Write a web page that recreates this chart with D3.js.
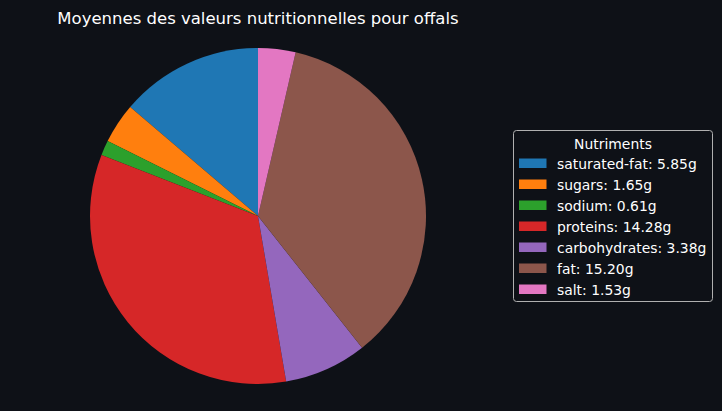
<!DOCTYPE html>
<html>
<head>
<meta charset="utf-8">
<script src="https://cdn.jsdelivr.net/npm/d3@7"></script>
<style>
	body { margin: 0; background: #0e1117; }
	svg { display: block; font-family: "DejaVu Sans", sans-serif; }
</style>
</head>
<body>
<svg id="chart" width="722" height="411"></svg>
<script>
let nutrients = ['saturated-fat', 'sugars', 'sodium', 'proteins', 'carbohydrates', 'fat', 'salt'];
let values = [5.85, 1.65, 0.61, 14.28, 3.38, 15.20, 1.53];
let colors = ['#1f77b4', '#ff7f0e', '#2ca02c', '#d62728', '#9467bd', '#8c564b', '#e377c2'];

let svg = d3.select('#chart');

svg.append('rect')
	.attr('width', 722)
	.attr('height', 411)
	.attr('fill', '#0e1117');

let cx = 258, cy = 216, radius = 168;

let color = d3.scaleOrdinal()
	.domain(nutrients)
	.range(colors);

// matplotlib draws counterclockwise starting at the top
let pie = d3.pie()
	.sort(null)
	.startAngle(0)
	.endAngle(-2 * Math.PI)
	.value(function(d) { return d.value; });

let arc = d3.arc()
	.innerRadius(0)
	.outerRadius(radius);

let data = nutrients.map(function(n, i) {
	return { name: n, value: values[i] };
});

svg.append('g')
	.attr('transform', 'translate(' + cx + ',' + cy + ')')
	.selectAll('path')
	.data(pie(data))
	.enter()
	.append('path')
	.attr('d', arc)
	.attr('fill', function(d) { return color(d.data.name); });

svg.append('text')
	.attr('x', cx)
	.attr('y', 24)
	.attr('text-anchor', 'middle')
	.attr('fill', '#ffffff')
	.style('font-size', '16.5px')
	.text('Moyennes des valeurs nutritionnelles pour offals');

// LEGEND
let legend = svg.append('g')
	.attr('transform', 'translate(513.5,130.5)');

legend.append('rect')
	.attr('width', 199)
	.attr('height', 171)
	.attr('rx', 3)
	.attr('fill', '#0e1117')
	.attr('stroke', '#b0b0b0')
	.attr('stroke-width', 1);

legend.append('text')
	.attr('x', 99.5)
	.attr('y', 18)
	.attr('text-anchor', 'middle')
	.attr('fill', '#ffffff')
	.style('font-size', '13.9px')
	.text('Nutriments');

let rows = legend.selectAll('g.row')
	.data(data)
	.enter()
	.append('g')
	.attr('class', 'row')
	.attr('transform', function(d, i) { return 'translate(0,' + (33 + i * 21) + ')'; });

rows.append('rect')
	.attr('x', 5.5)
	.attr('y', -5)
	.attr('width', 27.5)
	.attr('height', 9.5)
	.attr('fill', function(d) { return color(d.name); });

rows.append('text')
	.attr('x', 43.5)
	.attr('y', 5)
	.attr('fill', '#ffffff')
	.style('font-size', '13.9px')
	.text(function(d) { return d.name + ': ' + d.value.toFixed(2) + 'g'; });
</script>
</body>
</html>
